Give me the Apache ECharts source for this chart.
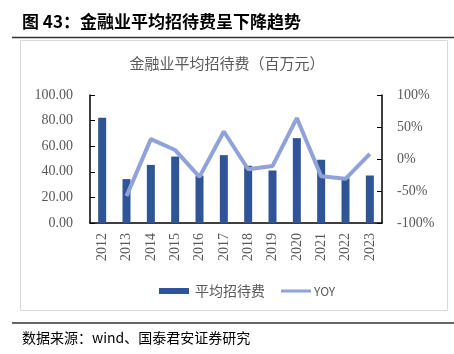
<!DOCTYPE html>
<html>
<head>
<meta charset="utf-8">
<script src="https://cdn.jsdelivr.net/npm/echarts@6/dist/echarts.min.js"></script>
<style>
  html, body { margin: 0; padding: 0; background: #fff; }
  #chart { width: 454px; height: 354px; }
</style>
</head>
<body>
<div id="chart"></div>
<script>
// data
const years = ['2012', '2013', '2014', '2015', '2016', '2017', '2018', '2019', '2020', '2021', '2022', '2023'];
const avgCost = [82.3, 34.3, 45.4, 51.9, 37.0, 53.0, 44.7, 41.0, 66.3, 49.4, 35.0, 37.1];
const yoy = [null, -58, 31, 14, -28, 43, -16, -11, 64, -27, -31, 8];
const leftTicks = [0, 20, 40, 60, 80, 100];
const rightTicks = [-100, -50, 0, 50, 100];

const serif = '"Liberation Serif", "Times New Roman", serif';
const cjk = '"Noto Sans CJK SC", sans-serif';
const grey = '#595959';

const chart = echarts.init(document.getElementById('chart'));

chart.setOption({
    animation: false,
    backgroundColor: '#fff',
    graphic: [
        // figure caption
        { type: 'text', left: 22, top: 13, style: { text: '图 43：金融业平均招待费呈下降趋势', font: 'bold 17px ' + cjk, fill: '#000' } },
        { type: 'line', shape: { x1: 12, y1: 37.5, x2: 454, y2: 37.5 }, style: { stroke: '#333', lineWidth: 1.5 } },
        // chart frame
        { type: 'rect', shape: { x: 20.5, y: 40.5, width: 427, height: 270 }, style: { fill: 'none', stroke: '#d9d9d9', lineWidth: 1 } },
        { type: 'line', shape: { x1: 12, y1: 323, x2: 454, y2: 323 }, style: { stroke: '#333', lineWidth: 1.5 } },
        // source note
        { type: 'text', left: 22, top: 331, style: { text: '数据来源：wind、国泰君安证券研究', font: '14px ' + cjk, fill: '#000' } }
    ],
    title: {
        text: '金融业平均招待费（百万元）',
        left: 'center',
        top: 51,
        textStyle: { fontFamily: cjk, fontSize: 15, fontWeight: 'normal', color: grey }
    },
    legend: {
        bottom: 51,
        left: 154,
        itemGap: 16,
        itemWidth: 30,
        itemHeight: 6,
        textStyle: { fontFamily: cjk, fontSize: 14, color: grey, padding: [0, 0, 0, 1] },
        data: [
            { name: '平均招待费', icon: 'rect' },
            { name: 'YOY', icon: 'path://M0,0 L30,0 L30,3 L0,3 Z', textStyle: { fontSize: 12, padding: [0, 0, 0, -2] } }
        ]
    },
    grid: { left: 90, right: 72, top: 95, bottom: 131, containLabel: false },
    xAxis: {
        type: 'category',
        data: years,
        axisLine: { lineStyle: { color: '#000', width: 1.5 } },
        axisTick: { show: false },
        axisLabel: { rotate: 90, margin: 10, fontFamily: serif, fontSize: 14, color: grey }
    },
    yAxis: [
        {
            type: 'value',
            min: leftTicks[0],
            max: leftTicks[leftTicks.length - 1],
            interval: 20,
            splitLine: { show: false },
            axisLine: { show: true, lineStyle: { color: '#000', width: 1.5 } },
            axisTick: { show: true, inside: true, length: 5, lineStyle: { color: '#000' } },
            axisLabel: { margin: 17, fontFamily: serif, fontSize: 14, color: grey, formatter: v => v.toFixed(2) }
        },
        {
            type: 'value',
            min: rightTicks[0],
            max: rightTicks[rightTicks.length - 1],
            interval: 50,
            splitLine: { show: false },
            axisLine: { show: true, lineStyle: { color: '#000', width: 1.5 } },
            axisTick: { show: true, inside: true, length: 5, lineStyle: { color: '#000' } },
            axisLabel: { margin: 15, fontFamily: serif, fontSize: 14, color: grey, formatter: v => v + '%' }
        }
    ],
    series: [
        {
            name: '平均招待费',
            type: 'bar',
            yAxisIndex: 0,
            barWidth: 8,
            itemStyle: { color: '#2F5597' },
            data: avgCost
        },
        {
            name: 'YOY',
            type: 'line',
            yAxisIndex: 1,
            symbol: 'none',
            lineStyle: { color: '#8FA2DA', width: 4 },
            itemStyle: { color: '#8FA2DA' },
            data: yoy
        }
    ]
});
</script>
</body>
</html>
